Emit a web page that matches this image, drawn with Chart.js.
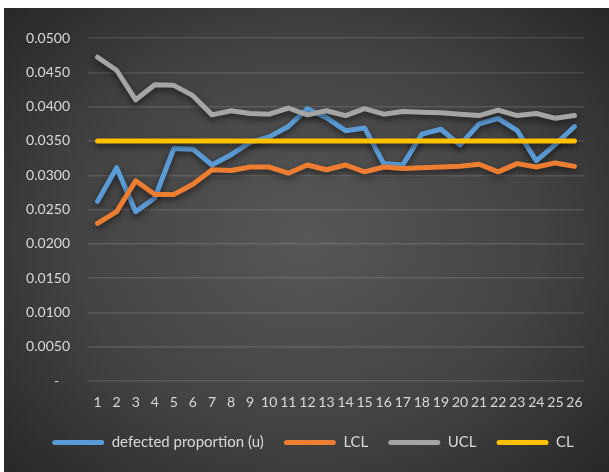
<!DOCTYPE html>
<html lang="en">
<head>
    <meta charset="UTF-8">
    <title>Control chart - defected proportion</title>
    <script src="https://cdn.jsdelivr.net/npm/chart.js"></script>
    <style>
        html, body { margin: 0; padding: 0; background: #fff; }
        #wrap {
            position: absolute; left: 4px; top: 8px; width: 605px; height: 464px;
            background: radial-gradient(ellipse 70% 75% at 50% 50%, #575757 0%, #434343 55%, #262626 100%);
        }
    </style>
</head>
<body>
    <div id="wrap"><canvas id="spcChart" width="605" height="464"></canvas></div>

    <script>
        // sample numbers 1..26
        const samples = ['1','2','3','4','5','6','7','8','9','10','11','12','13','14','15','16','17','18','19','20','21','22','23','24','25','26'];

        const defected = [0.0262, 0.0311, 0.0247, 0.0267, 0.0339, 0.0338, 0.0315, 0.0330, 0.0348, 0.0356,
                          0.0371, 0.0397, 0.0384, 0.0365, 0.0369, 0.0317, 0.0315, 0.0360, 0.0367, 0.0344,
                          0.0375, 0.0383, 0.0365, 0.0321, 0.0345, 0.0371];
        const lcl = [0.0230, 0.0247, 0.0292, 0.0272, 0.0272, 0.0287, 0.0308, 0.0307, 0.0312, 0.0312,
                     0.0303, 0.0315, 0.0308, 0.0315, 0.0305, 0.0312, 0.0310, 0.0311, 0.0312, 0.0313,
                     0.0316, 0.0305, 0.0317, 0.0312, 0.0318, 0.0313];
        const ucl = [0.0472, 0.0453, 0.0410, 0.0432, 0.0431, 0.0416, 0.0388, 0.0394, 0.0390, 0.0389,
                     0.0398, 0.0388, 0.0394, 0.0387, 0.0397, 0.0389, 0.0393, 0.0392, 0.0391, 0.0389,
                     0.0387, 0.0395, 0.0387, 0.0390, 0.0383, 0.0387];
        const cl = samples.map(() => 0.0350);

        const yTicks = { min: 0, max: 0.05, step: 0.005 };

        const textColor = '#d9d9d9';
        const fontFamily = 'Lato, "Liberation Sans", sans-serif';

        // soft drop shadow under the lines, like the office dark style
        const shadowPlugin = {
            id: 'lineShadow',
            beforeDatasetsDraw(chart) {
                const c = chart.ctx;
                c.save();
                c.shadowColor = 'rgba(0,0,0,0.55)';
                c.shadowBlur = 6;
                c.shadowOffsetY = 3;
            },
            afterDatasetsDraw(chart) {
                chart.ctx.restore();
            }
        };

        // nudge the legend so it sits where excel put it
        const legendNudge = {
            id: 'legendNudge',
            afterLayout(chart) {
                const lg = chart.legend;
                if (!lg) return;
                lg.left += 19; lg.right += 19;
                lg.top -= 9; lg.bottom -= 9;
            }
        };

        function series(label, data, color, order) {
            return {
                label: label,
                data: data,
                borderColor: color,
                backgroundColor: color,
                borderWidth: 5,
                borderCapStyle: 'round',
                borderJoinStyle: 'round',
                pointRadius: 0,
                tension: 0,
                order: order
            };
        }

        const ctx = document.getElementById('spcChart').getContext('2d');
        const spcChart = new Chart(ctx, {
            type: 'line',
            data: {
                labels: samples,
                datasets: [
                    series('defected proportion (u)', defected, '#5b9bd5', 4),
                    series('LCL', lcl, '#ed7d31', 3),
                    series('UCL', ucl, '#a5a5a5', 2),
                    series('CL', cl, '#ffc000', 1)
                ]
            },
            plugins: [shadowPlugin, legendNudge],
            options: {
                responsive: false,
                animation: false,
                layout: { padding: { top: 30, right: 25, bottom: 3, left: 0 } },
                plugins: {
                    tooltip: { enabled: false },
                    legend: {
                        position: 'bottom',
                        labels: {
                            color: textColor,
                            font: { family: fontFamily, size: 15 },
                            boxWidth: 52,
                            boxHeight: 5,
                            padding: 20,
                            generateLabels(chart) {
                                return chart.data.datasets.map((ds, i) => ({
                                    text: ds.label,
                                    fillStyle: ds.borderColor,
                                    strokeStyle: ds.borderColor,
                                    fontColor: textColor,
                                    lineWidth: 0,
                                    borderRadius: 2.5,
                                    hidden: false,
                                    datasetIndex: i
                                }));
                            }
                        }
                    }
                },
                scales: {
                    x: {
                        offset: true,
                        grid: { display: false, drawTicks: false, offset: true },
                        border: { display: false },
                        ticks: {
                            color: textColor,
                            font: { family: fontFamily, size: 14 },
                            padding: 13,
                            autoSkip: false,
                            maxRotation: 0
                        }
                    },
                    y: {
                        min: yTicks.min,
                        max: yTicks.max,
                        afterFit(scale) { scale.width = 84; },
                        grid: { color: 'rgba(255,255,255,0.12)', lineWidth: 1.5, drawTicks: false },
                        border: { display: false },
                        ticks: {
                            stepSize: yTicks.step,
                            color: textColor,
                            font: { family: fontFamily, size: 14 },
                            padding: 18,
                            callback: v => (Math.abs(v) < 1e-9 ? '-   ' : v.toFixed(4))
                        }
                    }
                }
            }
        });
    </script>
</body>
</html>
